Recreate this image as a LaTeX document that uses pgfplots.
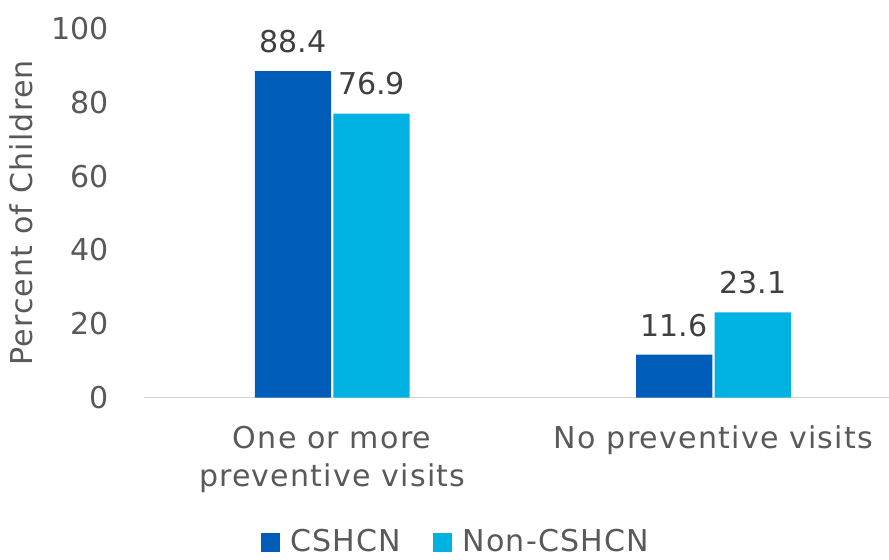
\documentclass[border=0pt]{standalone}
\usepackage{pgfplots}
\pgfplotsset{compat=1.18}
\usepackage{fontspec}
\setmainfont{DejaVu Sans}
\newfontfamily\wide[LetterSpace=4]{DejaVu Sans}
\definecolor{dblue}{HTML}{005CB9}
\definecolor{lblue}{HTML}{00B2E2}
\definecolor{tgray}{HTML}{595959}
\definecolor{lgray}{HTML}{404040}
\begin{document}
\fontsize{30}{36}\selectfont
\begin{tikzpicture}
\begin{axis}[
  scale only axis,
  width=740bp, height=367bp,
  ybar,
  xmin=-0.493, xmax=1.459,
  ymin=0, ymax=100,
  ytick={0,20,40,60,80,100},
  xtick={0,1},
  xticklabels={One or more\\preventive visits, No preventive visits},
  xticklabel style={align=center, text=tgray, font=\wide\fontsize{30}{38}\selectfont, yshift=-18bp},
  yticklabel style={text=tgray, font=\fontsize{30}{36}\selectfont, xshift=-25bp},
  /pgf/number format/assume math mode=true,
  major tick length=0pt,
  axis y line*=left,
  axis x line*=bottom,
  y axis line style={draw=none},
  x axis line style={draw=gray!35, line width=1pt, -},
  ylabel={Percent of Children},
  ylabel style={text=tgray, font=\wide\fontsize{30}{36}\selectfont, yshift=-2bp},
  legend style={at={(0.419,-0.345)}, anchor=north, draw=none, legend columns=2,
     font=\wide\fontsize{30}{36}\selectfont, text=tgray,
     /tikz/every odd column/.append style={column sep=8bp},
     /tikz/every even column/.append style={column sep=30bp}},
  legend image code/.code={\fill[#1] (0bp,-9bp) rectangle (19bp,9bp);},
  nodes near coords,
  nodes near coords style={text=lgray, font=\fontsize{30}{36}\selectfont, yshift=8bp, /pgf/number format/.cd, fixed, precision=1, zerofill, assume math mode=true},
  clip=false,
]
\addplot[bar width=0.2, bar shift=-0.103, fill=dblue, draw=none] coordinates {(0,88.4) (1,11.6)};
\addlegendentry{CSHCN}
\addplot[bar width=0.2, bar shift=0.103, fill=lblue, draw=none] coordinates {(0,76.9) (1,23.1)};
\addlegendentry{Non-CSHCN}
\end{axis}
\path ([yshift=7bp]current bounding box.north);
\end{tikzpicture}
\end{document}
